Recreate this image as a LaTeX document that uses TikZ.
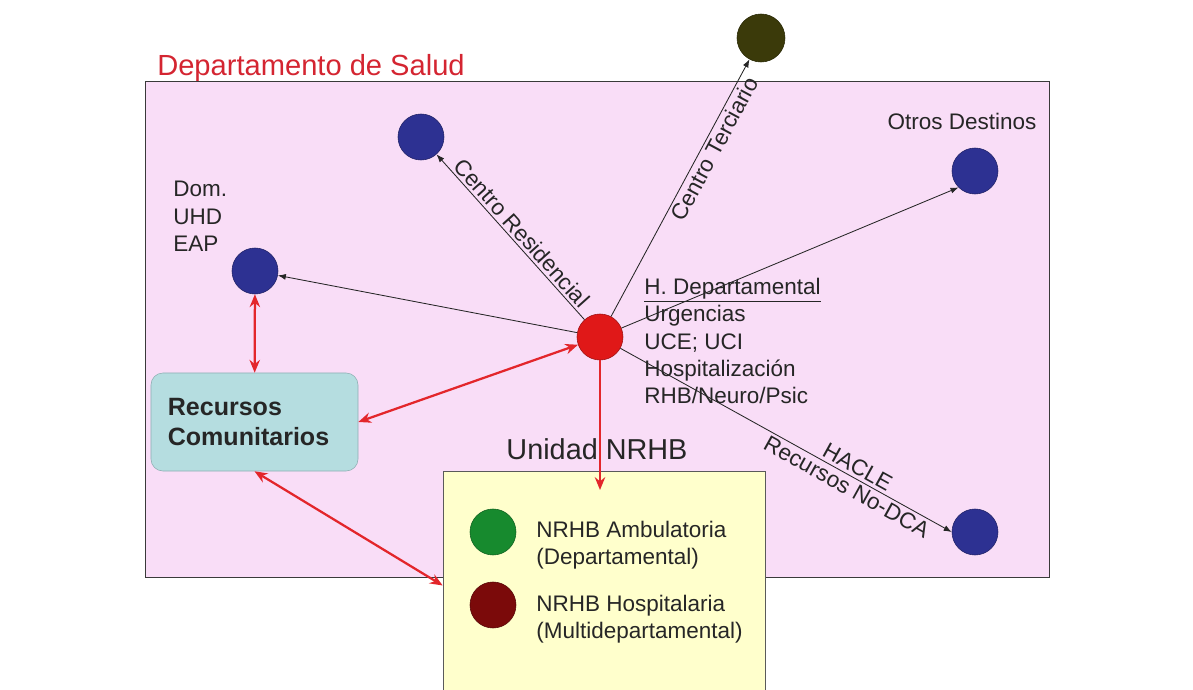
\documentclass[tikz,border=0pt]{standalone}
\usepackage{fontspec}
\setmainfont{Liberation Sans}
\usetikzlibrary{positioning,arrows.meta,calc}

\definecolor{txtgray}{HTML}{262626}
\definecolor{titlered}{HTML}{D42531}
\definecolor{deptpink}{HTML}{F9DDF7}
\definecolor{deptline}{HTML}{3A3A3A}
\definecolor{dotblue}{HTML}{2D3192}
\definecolor{dotolive}{HTML}{3B3A0A}
\definecolor{dotred}{HTML}{E01818}
\definecolor{recfill}{HTML}{B5DDE0}
\definecolor{recline}{HTML}{8FAFB3}
\definecolor{nrhbfill}{HTML}{FFFFCC}
\definecolor{nrhbline}{HTML}{5A5A5A}
\definecolor{ambgreen}{HTML}{178A2E}
\definecolor{hospred}{HTML}{7B0A0A}
\definecolor{arrowred}{HTML}{E3262B}

\begin{document}
\begin{tikzpicture}[
  x=0.025cm,y=-0.025cm,
  >=Stealth,
  every node/.style={font=\fontsize{16}{19.4}\selectfont,text=txtgray},
  dot/.style={circle,draw=#1!70!black,fill=#1,minimum size=1.15cm,inner sep=0pt},
  deptbox/.style={draw=deptline,fill=deptpink,minimum width=22.6cm,minimum height=12.4cm},
  recbox/.style={draw=recline,fill=recfill,rounded corners=3mm,minimum width=5.175cm,
                 minimum height=2.45cm,inner xsep=0.42cm,text width=4.33cm,align=left,
                 font=\bfseries\fontsize{17.8}{21.3}\selectfont},
  nrhbbox/.style={draw=nrhbline,fill=nrhbfill,minimum width=8.05cm,minimum height=5.725cm},
  txt/.style={anchor=north west,align=left,inner sep=0pt},
  lbl/.style={sloped,inner sep=2pt},
  blkarrow/.style={->,>={Latex[length=2mm,width=1.5mm]},draw=black!85,line width=0.6pt},
  redarrow/.style={draw=arrowred,line width=1.6pt,>={Stealth[length=3.2mm,width=2.6mm]}}
]
\useasboundingbox (0,0) rectangle (1193,690);

% area and boxes
\node[deptbox] (dept) at (597,329) {};
\node[anchor=base west,inner sep=0pt,text=titlered,
      font=\fontsize{20.7}{24}\selectfont] (depttitle) at (157,76) {Departamento de Salud};
\node[nrhbbox] (nrhb) at (604,585.5) {};
\node[anchor=base,inner sep=0pt,font=\fontsize{20.5}{24}\selectfont] (nrhbtitle) at (597,459) {Unidad NRHB};
\node[recbox] (recursos) at (254.5,422) {Recursos\\Comunitarios};

% centres
\node[dot=dotred] (hdep) at (600,337) {};
\node[dot=dotolive,minimum size=1.2cm] (terc) at (761,38) {};
\node[dot=dotblue] (resid) at (421,137) {};
\node[dot=dotblue] (otros) at (975,171) {};
\node[dot=dotblue] (dom) at (255,271) {};
\node[dot=dotblue] (hacle) at (975,532) {};
\node[dot=ambgreen] (amb) at (493,532) {};
\node[dot=hospred] (hosp) at (493,605) {};
\coordinate (nrhbin) at (600,490);

% texts
\node[txt] (hdeptxt) at (644,278) {\underline{H. Departamental}\\Urgencias\\UCE; UCI\\Hospitalización\\RHB/Neuro/Psic};
\node[txt] (domtxt) at (173,181) {Dom.\\UHD\\EAP};
\node[inner sep=0pt] (otrostxt) at (962,121) {Otros Destinos};
\node[txt] (ambtxt) at (536,521) {NRHB Ambulatoria\\(Departamental)};
\node[txt] (hosptxt) at (536,595) {NRHB Hospitalaria\\(Multidepartamental)};

% connectors
\draw[blkarrow] (hdep) -- (dom);
\draw[blkarrow] (hdep) -- node[lbl,above,pos=0.48] {Centro Residencial} (resid);
\draw[blkarrow] (hdep) -- node[lbl,below,pos=0.66,xshift=0.1cm] {Centro Terciario} (terc);
\draw[blkarrow] (hdep) -- (otros.south west);
\draw[blkarrow] (hdep) -- node[lbl,above,pos=0.70] {HACLE}
                          node[lbl,below,pos=0.70] {Recursos No-DCA} (hacle.west);
\draw[redarrow,<->] (dom) -- (recursos);
\draw[redarrow,<->] (recursos.east) -- (hdep);
\draw[redarrow,<->] (recursos.south) -- (nrhb.west);
\draw[redarrow,->] (hdep) -- (nrhbin);
\end{tikzpicture}
\end{document}
